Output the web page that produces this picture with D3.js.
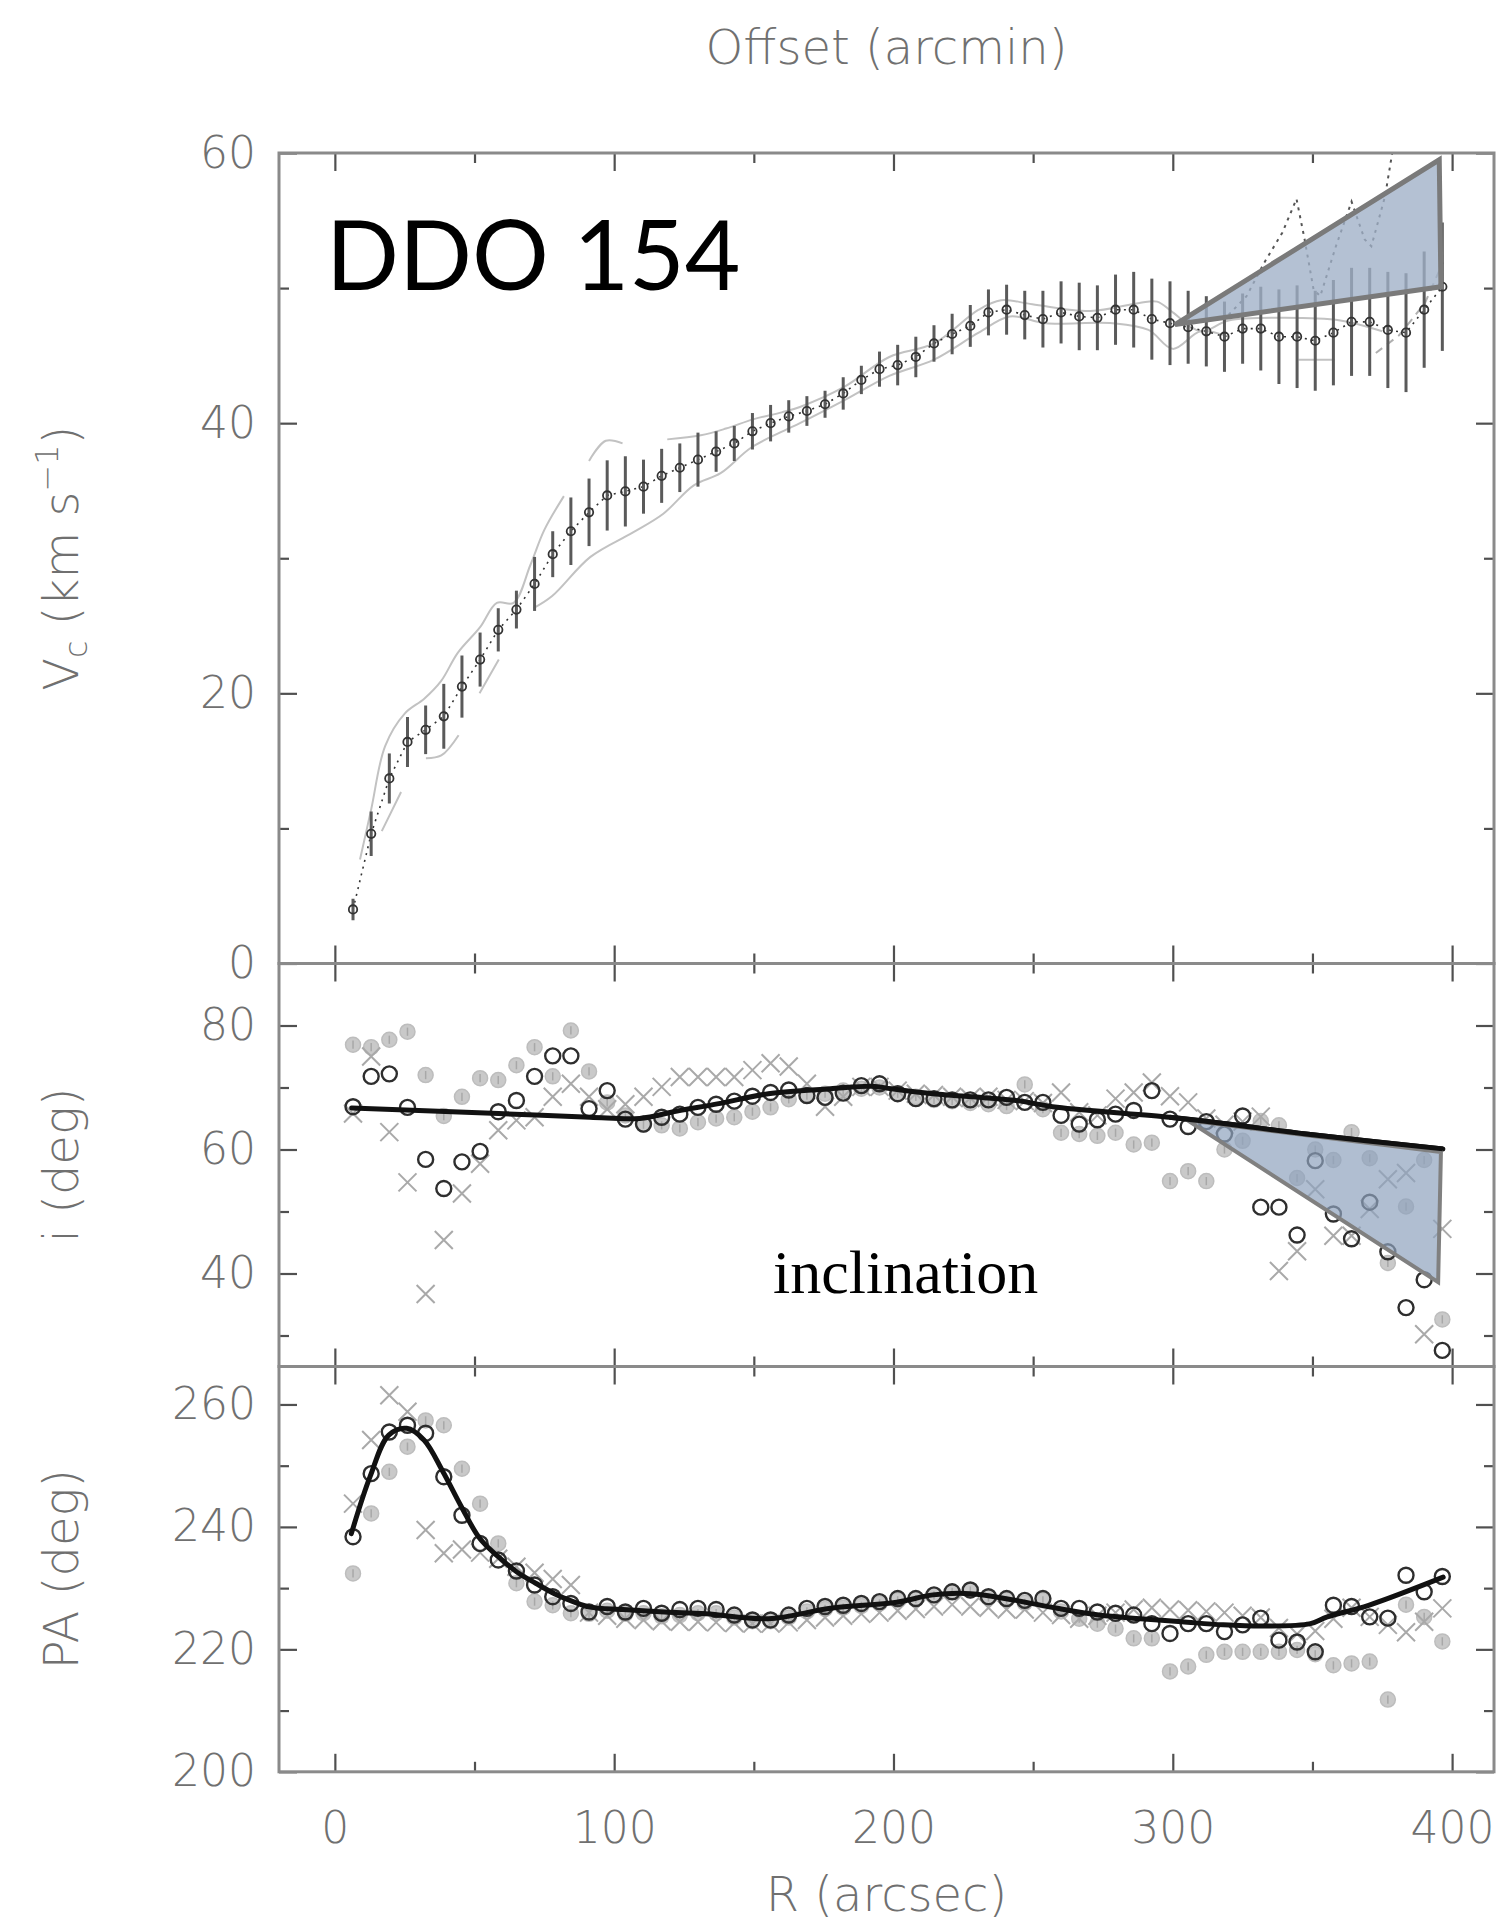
<!DOCTYPE html>
<html>
<head>
<meta charset="utf-8">
<script src="https://cdn.jsdelivr.net/npm/d3@7"></script>
<style>
  html, body { margin: 0; padding: 0; background: #ffffff; }
  svg { display: block; }
</style>
</head>
<body>
<svg id="chart" width="1500" height="1925"></svg>
<script>
// ---------------- DATA ----------------
// radius grid (arcsec) of the tilted-ring fits
const radii = [6.5, 13, 19.5, 26, 32.5, 39, 45.5, 52, 58.5, 65, 71.5, 78, 84.5, 91, 97.5, 104, 110.5, 117, 123.5, 130,
  136.5, 143, 149.5, 156, 162.5, 169, 175.5, 182, 188.5, 195, 201.5, 208, 214.5, 221, 227.5, 234, 240.5, 247, 253.5, 260,
  266.5, 273, 279.5, 286, 292.5, 299, 305.5, 312, 318.5, 325, 331.5, 338, 344.5, 351, 357.5, 364, 370.5, 377, 383.5, 390, 396.5];

// rotation curve V_c (km/s) and its error bar half-lengths
const vc = [4.0, 9.6, 13.7, 16.4, 17.3, 18.3, 20.5, 22.5, 24.7, 26.2, 28.1, 30.3, 32.0, 33.4, 34.65, 34.95, 35.3, 36.1, 36.7, 37.3,
  37.9, 38.5, 39.4, 40.0, 40.5, 40.9, 41.4, 42.2, 43.2, 44.0, 44.3, 44.9, 45.9, 46.6, 47.2, 48.2, 48.4, 48.0, 47.7, 48.2,
  47.9, 47.8, 48.4, 48.4, 47.7, 47.4, 47.1, 46.8, 46.4, 47.0, 47.0, 46.4, 46.4, 46.1, 46.7, 47.5, 47.5, 46.9, 46.7, 48.4, 50.1];
const vcErr = [0.8, 1.65, 1.85, 1.85, 1.8, 2.4, 2.3, 2.0, 1.6, 1.4, 2.0, 1.7, 2.5, 2.5, 2.6, 2.6, 2.0, 2.0, 1.8, 2.0,
  1.5, 1.3, 1.35, 1.35, 1.2, 1.1, 1.0, 1.2, 1.05, 1.3, 1.5, 1.5, 1.35, 1.5, 1.55, 1.7, 1.85, 1.8, 2.1, 2.3,
  2.5, 2.4, 2.6, 2.8, 3.0, 3.1, 2.7, 2.6, 2.6, 2.6, 3.1, 3.5, 3.8, 3.7, 3.9, 4.0, 4.0, 4.3, 4.4, 4.3, 4.75];

// grey envelope curves of the rotation curve (null = gap)
const upperR = [9, 13, 18, 25, 32, 38, 44, 52, 58, 64, 70, 75, 82, null, 91, 97, 103, null, 119, 131, 140, 150, 160, 166.5, 182.5,
  198.5, 214.5, 230.5, 238.5, 249.7, 270.5, 288, 294.4, 300, 310, 320, 340, 360, 375];
const upperV = [7.7, 11.4, 16.1, 18.5, 19.6, 20.9, 23.0, 24.9, 26.7, 26.7, 29.5, 32.1, 34.6, null, 37.2, 38.7, 38.5, null, 38.8, 39.1, 39.6, 40.3, 40.8, 41.2, 42.7,
  44.9, 45.9, 48.4, 49.1, 48.8, 48.3, 48.9, 49.0, 48.2, 46.8, 47.6, 47.8, 47.6, 46.8];
const lowerR = [16.8, 23.7, null, 32.6, 38.1, 44.3, null, 51.8, 58.7, null, 71.1, 77.8, 91.5, 106.6, 117.6, 128.5, 138.1, 149.1, 161.4,
  166.5, 182.5, 198.5, 214.5, 230.5, 241.7, 254.5, 278.5, 291.3, 300, 310, 320, null, 345, 358];
const lowerV = [9.8, 12.7, null, 15.2, 15.4, 16.9, null, 20.0, 22.5, null, 26.3, 27.2, 30.1, 31.9, 33.3, 35.4, 36.3, 38.2, 39.5,
  40.0, 41.7, 43.5, 44.7, 46.7, 47.9, 47.4, 47.4, 46.9, 45.5, 46.8, 46.4, null, 44.7, 44.7];
// grey dashed and black dotted excursions at large radius
const dashR = [372.7, 381, 390.3, 396.7];
const dashV = [45.2, 46.5, 48.9, 51.9];
const spikeR = [318, 326.4, 332.8, 339.2, 344.3, 347.2, 350.4, 352.8, 358.4, 364.0, 368.7, 371.1, 376.0, 378.8, 380.2];
const spikeV = [47.6, 49.4, 51.9, 54.1, 56.6, 53.6, 49.9, 49.4, 53.1, 56.4, 53.6, 53.1, 56.8, 60.3, 62.5];

// highlight triangles (R, value)
const triVcR = [300.8, 395.4, 396.0];
const triVcV = [47.3, 59.5, 50.1];
const triIncR = [305.3, 396.0, 395.0];
const triIncV = [64.7, 59.6, 38.6];

// inclination (deg)
const incOpen = [66.9, 71.8, 72.2, 66.8, 58.4, 53.7, 58.0, 59.7, 66.1, 67.9, 71.8, 75.1, 75.1, 66.6, 69.5, 64.9, 64.1, 65.2, 65.7, 66.8,
  67.3, 67.8, 68.6, 69.2, 69.6, 68.7, 68.4, 69.1, 70.3, 70.6, 69.0, 68.2, 68.2, 68.0, 68.0, 68.0, 68.4, 67.6, 67.6, 65.5,
  64.1, 64.8, 65.7, 66.3, 69.5, 64.9, 63.7, 64.5, 62.5, 65.4, 50.7, 50.7, 46.2, 58.2, 49.6, 45.6, 51.5, 43.5, 34.5, 39.0, 27.6];
const incGrey = [76.9, 76.5, 77.7, 79.0, 72.0, 65.4, 68.5, 71.5, 71.2, 73.6, 76.5, 71.8, 79.2, 72.6, 67.6, 65.5, 64.0, 63.9, 63.4, 64.4,
  65.0, 65.2, 66.1, 66.8, 68.1, 68.7, 69.0, 69.5, 69.8, 70.0, 69.0, 68.5, 68.0, 67.8, 67.5, 67.3, 67.0, 70.5, 66.5, 62.7,
  62.5, 62.2, 62.7, 60.8, 61.1, 54.9, 56.5, 54.9, 60.0, 61.4, 64.6, 63.9, 55.4, 60.0, 58.3, 62.8, 58.6, 41.7, 50.8, 58.3, 32.6];
const incCross = [65.8, 75.0, 62.8, 54.7, 36.7, 45.4, 52.9, 57.7, 63.1, 64.7, 65.2, 68.5, 70.6, 68.5, 66.5, 67.3, 68.5, 70.1, 71.7, 71.7,
  71.7, 71.7, 72.8, 73.9, 73.4, 70.6, 66.9, 68.5, 70.1, 70.1, 69.5, 69.0, 68.8, 68.5, 68.3, 68.5, 68.0, 67.8, 67.5, 69.2,
  66.0, 65.5, 68.2, 69.2, 70.8, 68.6, 67.6, 65.0, 64.0, 64.5, 65.3, 40.4, 43.6, 53.6, 46.1, 46.1, 50.4, 55.2, 56.2, 30.2, 47.2];
const incFitR = [6, 30, 58.6, 91.3, 109.1, 122.5, 137.4, 155.2, 177.4, 192.3, 199.3, 214.1, 243.8, 258.6, 298.8, 318.2, 347.7, 396.7];
const incFitV = [66.7, 66.3, 65.8, 65.2, 65.0, 66.2, 67.4, 69.0, 69.8, 70.2, 69.8, 69.0, 67.9, 66.8, 65.2, 64.2, 62.5, 60.1];

// position angle (deg)
const paOpen = [238.4, 248.7, 255.5, 256.6, 255.3, 248.2, 241.9, 237.3, 234.6, 232.8, 230.5, 228.6, 227.5, 226.1, 227.0, 226.1, 226.7, 225.9, 226.5, 226.7,
  226.5, 225.6, 224.8, 224.8, 225.6, 226.7, 227.0, 227.2, 227.5, 227.8, 228.3, 228.3, 228.9, 229.4, 229.7, 228.6, 228.3, 228.0, 228.3, 226.7,
  226.7, 226.1, 225.9, 225.6, 224.2, 222.6, 224.2, 224.2, 222.9, 224.0, 225.1, 221.5, 221.2, 219.6, 227.2, 227.0, 225.3, 225.1, 232.1, 229.4, 231.9];
const paGrey = [232.4, 242.2, 249.0, 253.1, 257.4, 256.6, 249.5, 243.8, 237.3, 230.8, 227.8, 227.2, 225.9, 225.8, 226.3, 225.8, 225.9, 225.4, 225.6, 225.9,
  225.9, 225.2, 224.6, 224.6, 225.2, 226.2, 226.6, 226.8, 227.1, 227.5, 228.0, 228.2, 228.8, 229.4, 229.6, 228.5, 228.1, 227.6, 228.0, 226.2,
  225.0, 224.2, 223.4, 221.8, 221.8, 216.4, 217.2, 219.1, 219.6, 219.6, 219.6, 219.6, 219.9, 219.2, 217.4, 217.7, 218.0, 211.8, 227.3, 225.3, 221.3];
const paCross = [243.8, 254.2, 261.5, 258.8, 239.5, 235.7, 236.3, 235.8, 234.8, 233.5, 232.5, 231.5, 230.5, 226.0, 225.5, 225.0, 224.8, 224.6, 224.5, 224.5,
  224.4, 224.3, 224.2, 224.2, 224.4, 224.8, 225.2, 225.5, 225.8, 226.0, 226.3, 226.6, 227.0, 227.3, 227.0, 226.8, 226.5, 226.5, 226.0, 225.6,
  225.0, 225.5, 226.0, 226.5, 226.8, 226.5, 226.4, 226.2, 226.0, 225.5, 225.2, 223.5, 222.5, 223.0, 225.0, 226.8, 225.3, 224.0, 222.8, 224.5, 226.7];
const paFitR = [5.9, 12.6, 19.3, 25.7, 31.9, 38.6, 45.3, 51.9, 58.6, 65.3, 71.9, 78.6, 85.3, 91.3, 103.2, 118, 132.9, 155.2, 177.4, 201.2,
  214.1, 227.5, 243.8, 258.6, 273.5, 288.4, 303.2, 318.1, 333, 349.3, 355.3, 370.1, 396.8];
const paFitV = [238.9, 248.2, 255.0, 256.1, 254.2, 249.1, 243.3, 238.1, 235.1, 232.6, 230.8, 229.1, 227.8, 226.9, 226.5, 226.1, 225.8, 225.0, 226.7, 227.7,
  228.9, 229.1, 228.0, 226.7, 225.6, 225.0, 224.5, 224.0, 223.8, 224.2, 225.3, 227.2, 231.8];

// axis ticks
const xMajor = [0, 100, 200, 300, 400];
const xMinor = [50, 150, 250, 350];
const vcMajor = [0, 20, 40, 60], vcMinor = [10, 30, 50];
const incMajor = [40, 60, 80], incMinor = [30, 50, 70];
const paMajor = [200, 220, 240, 260], paMinor = [210, 230, 250];

// ---------------- LAYOUT ----------------
const svg = d3.select('#chart');
const L = 279, Rt = 1494;
const P1 = [153, 963.5], P2 = [963.5, 1366.5], P3 = [1366.5, 1771.8];
const x = d3.scaleLinear().domain([-20, 415]).range([L, Rt]);
const y1 = d3.scaleLinear().domain([0, 60]).range([P1[1], P1[0]]);
const y2 = d3.scaleLinear().domain([25, 90]).range([P2[1], P2[0]]);
const y3 = d3.scaleLinear().domain([200, 266.2]).range([P3[1], P3[0]]);

const sansFont = '"DejaVu Sans", "Liberation Sans", sans-serif';
const labelColor = '#707070';

const defs = svg.append('defs');
[[P1, 'c1'], [P2, 'c2'], [P3, 'c3']].forEach(([p, id]) => {
  defs.append('clipPath').attr('id', id).append('rect')
    .attr('x', L).attr('y', p[0]).attr('width', Rt - L).attr('height', p[1] - p[0]);
});

const zip = (a, b) => a.map((v, i) => (v === null || b[i] === null) ? null : [v, b[i]]);
const lineGen = (yS, curve) => d3.line().defined(d => d !== null)
  .x(d => x(d[0])).y(d => yS(d[1])).curve(curve || d3.curveLinear);

// ---------------- PANEL 1: rotation curve ----------------
const g1 = svg.append('g').attr('clip-path', 'url(#c1)');
g1.append('path').datum(zip(upperR, upperV)).attr('d', lineGen(y1, d3.curveCatmullRom))
  .attr('fill', 'none').attr('stroke', '#c2c2c2').attr('stroke-width', 2);
g1.append('path').datum(zip(lowerR, lowerV)).attr('d', lineGen(y1, d3.curveCatmullRom))
  .attr('fill', 'none').attr('stroke', '#c2c2c2').attr('stroke-width', 2);
g1.append('path').datum(zip(dashR, dashV)).attr('d', lineGen(y1))
  .attr('fill', 'none').attr('stroke', '#b0b0b0').attr('stroke-width', 2).attr('stroke-dasharray', '8,6');
g1.append('path').datum(zip(spikeR, spikeV)).attr('d', lineGen(y1))
  .attr('fill', 'none').attr('stroke', '#555').attr('stroke-width', 2).attr('stroke-dasharray', '3,5');
g1.append('path').datum(zip(radii, vc)).attr('d', lineGen(y1))
  .attr('fill', 'none').attr('stroke', '#333').attr('stroke-width', 1.6).attr('stroke-dasharray', '2,5');
g1.selectAll('line.err').data(radii).join('line').attr('class', 'err')
  .attr('x1', d => x(d)).attr('x2', d => x(d))
  .attr('y1', (d, i) => y1(vc[i] - vcErr[i])).attr('y2', (d, i) => y1(vc[i] + vcErr[i]))
  .attr('stroke', '#5a5a5a').attr('stroke-width', 3);
g1.selectAll('circle.pt').data(radii).join('circle').attr('class', 'pt')
  .attr('cx', d => x(d)).attr('cy', (d, i) => y1(vc[i])).attr('r', 4.2)
  .attr('fill', 'none').attr('stroke', '#333').attr('stroke-width', 1.8);
g1.append('path').datum(zip(triVcR, triVcV))
  .attr('d', d3.line().x(d => x(d[0])).y(d => y1(d[1])).curve(d3.curveLinearClosed))
  .attr('fill', '#9fb0c6').attr('fill-opacity', 0.78)
  .attr('stroke', '#7a7a7a').attr('stroke-width', 5).attr('stroke-linejoin', 'miter');

// ---------------- scatter helper for panels 2 and 3 ----------------
function scatterPanel(clipId, yS, grey, cross, open, fitR, fitV, r) {
  const g = svg.append('g').attr('clip-path', `url(#${clipId})`);
  g.selectAll('circle.grey').data(radii).join('circle').attr('class', 'grey')
    .attr('cx', d => x(d)).attr('cy', (d, i) => yS(grey[i])).attr('r', r)
    .attr('fill', '#c9c9c9').attr('stroke', '#bdbdbd').attr('stroke-width', 1.5);
  g.selectAll('line.greyTick').data(radii).join('line').attr('class', 'greyTick')
    .attr('x1', d => x(d)).attr('x2', d => x(d))
    .attr('y1', (d, i) => yS(grey[i]) - r * 0.55).attr('y2', (d, i) => yS(grey[i]) + r * 0.55)
    .attr('stroke', '#a8a8a8').attr('stroke-width', 1.5);
  g.selectAll('path.cross').data(radii).join('path').attr('class', 'cross')
    .attr('transform', (d, i) => `translate(${x(d)},${yS(cross[i])})`)
    .attr('d', 'M-9,-9L9,9M-9,9L9,-9')
    .attr('fill', 'none').attr('stroke', '#a9a9a9').attr('stroke-width', 2);
  g.selectAll('circle.open').data(radii).join('circle').attr('class', 'open')
    .attr('cx', d => x(d)).attr('cy', (d, i) => yS(open[i])).attr('r', r)
    .attr('fill', 'none').attr('stroke', '#2e2e2e').attr('stroke-width', 2.4);
  g.append('path').datum(zip(fitR, fitV)).attr('d', lineGen(yS, d3.curveCatmullRom))
    .attr('fill', 'none').attr('stroke', '#111').attr('stroke-width', 5).attr('stroke-linecap', 'round');
  return g;
}

const g2 = scatterPanel('c2', y2, incGrey, incCross, incOpen, incFitR, incFitV, 7.5);
g2.append('path').datum(zip(triIncR, triIncV))
  .attr('d', d3.line().x(d => x(d[0])).y(d => y2(d[1])).curve(d3.curveLinearClosed))
  .attr('fill', '#8ea2bd').attr('fill-opacity', 0.7)
  .attr('stroke', '#808080').attr('stroke-width', 4);
g2.append('path').datum(zip(incFitR.slice(-4), incFitV.slice(-4))).attr('d', lineGen(y2, d3.curveCatmullRom))
  .attr('fill', 'none').attr('stroke', '#111').attr('stroke-width', 5);

const g3 = scatterPanel('c3', y3, paGrey, paCross, paOpen, paFitR, paFitV, 7.5);

// ---------------- AXES / FRAMES ----------------
function styleAxis(g) {
  g.select('.domain').remove();
  g.selectAll('.tick line').attr('stroke', '#505050').attr('stroke-width', 2.2);
  g.selectAll('.tick text').attr('fill', labelColor).style('font-family', sansFont)
    .style('font-size', '44px').style('font-weight', 200);
}
function panelAxes(p, yS, major, minor, xLabels) {
  // bottom
  svg.append('g').attr('transform', `translate(0,${p[1]})`)
    .call(d3.axisBottom(x).tickValues(xMajor).tickSize(-18).tickPadding(40).tickFormat(xLabels ? d3.format('d') : () => ''))
    .call(styleAxis);
  svg.append('g').attr('transform', `translate(0,${p[1]})`)
    .call(d3.axisBottom(x).tickValues(xMinor).tickSize(-10).tickFormat(() => '')).call(styleAxis);
  // top
  svg.append('g').attr('transform', `translate(0,${p[0]})`)
    .call(d3.axisTop(x).tickValues(xMajor).tickSize(-18).tickFormat(() => '')).call(styleAxis);
  svg.append('g').attr('transform', `translate(0,${p[0]})`)
    .call(d3.axisTop(x).tickValues(xMinor).tickSize(-10).tickFormat(() => '')).call(styleAxis);
  // left
  svg.append('g').attr('transform', `translate(${L},0)`)
    .call(d3.axisLeft(yS).tickValues(major).tickSize(-18).tickPadding(23).tickFormat(d3.format('d'))).call(styleAxis);
  svg.append('g').attr('transform', `translate(${L},0)`)
    .call(d3.axisLeft(yS).tickValues(minor).tickSize(-10).tickFormat(() => '')).call(styleAxis);
  // right
  svg.append('g').attr('transform', `translate(${Rt},0)`)
    .call(d3.axisRight(yS).tickValues(major).tickSize(-18).tickFormat(() => '')).call(styleAxis);
  svg.append('g').attr('transform', `translate(${Rt},0)`)
    .call(d3.axisRight(yS).tickValues(minor).tickSize(-10).tickFormat(() => '')).call(styleAxis);
  // frame
  svg.append('rect').attr('x', L).attr('y', p[0]).attr('width', Rt - L).attr('height', p[1] - p[0])
    .attr('fill', 'none').attr('stroke', '#8a8a8a').attr('stroke-width', 3);
}
panelAxes(P1, y1, vcMajor, vcMinor, false);
panelAxes(P2, y2, incMajor, incMinor, false);
panelAxes(P3, y3, paMajor, paMinor, true);

// ---------------- TITLES ----------------
const titleStyle = s => s.attr('fill', labelColor).style('font-family', sansFont)
  .style('font-size', '48px').style('font-weight', 200);

svg.append('text').attr('x', (L + Rt) / 2).attr('y', 64).attr('text-anchor', 'middle')
  .text('Offset (arcmin)').call(titleStyle);
svg.append('text').attr('x', (L + Rt) / 2).attr('y', 1911).attr('text-anchor', 'middle')
  .text('R (arcsec)').call(titleStyle);

const vcLabel = svg.append('text').attr('transform', `translate(78,${(P1[0] + P1[1]) / 2}) rotate(-90)`)
  .attr('text-anchor', 'middle').call(titleStyle);
vcLabel.append('tspan').text('V');
vcLabel.append('tspan').attr('dy', 9).style('font-size', '32px').text('c');
vcLabel.append('tspan').attr('dy', -9).text(' (km s');
vcLabel.append('tspan').attr('dy', -20).style('font-size', '32px').text('\u22121');
vcLabel.append('tspan').attr('dy', 20).text(')');

svg.append('text').attr('transform', `translate(78,${(P2[0] + P2[1]) / 2}) rotate(-90)`)
  .attr('text-anchor', 'middle').text('i (deg)').call(titleStyle);
svg.append('text').attr('transform', `translate(78,${(P3[0] + P3[1]) / 2}) rotate(-90)`)
  .attr('text-anchor', 'middle').text('PA (deg)').call(titleStyle);

// annotations
svg.append('text').attr('x', 326).attr('y', 290).text('DDO 154')
  .attr('fill', '#000').style('font-family', 'Lato, "Open Sans", sans-serif').style('font-size', '96px');
svg.append('text').attr('x', 773).attr('y', 1293).text('inclination')
  .attr('fill', '#000').style('font-family', '"Liberation Serif", "DejaVu Serif", serif').style('font-size', '62px');
</script>
</body>
</html>
